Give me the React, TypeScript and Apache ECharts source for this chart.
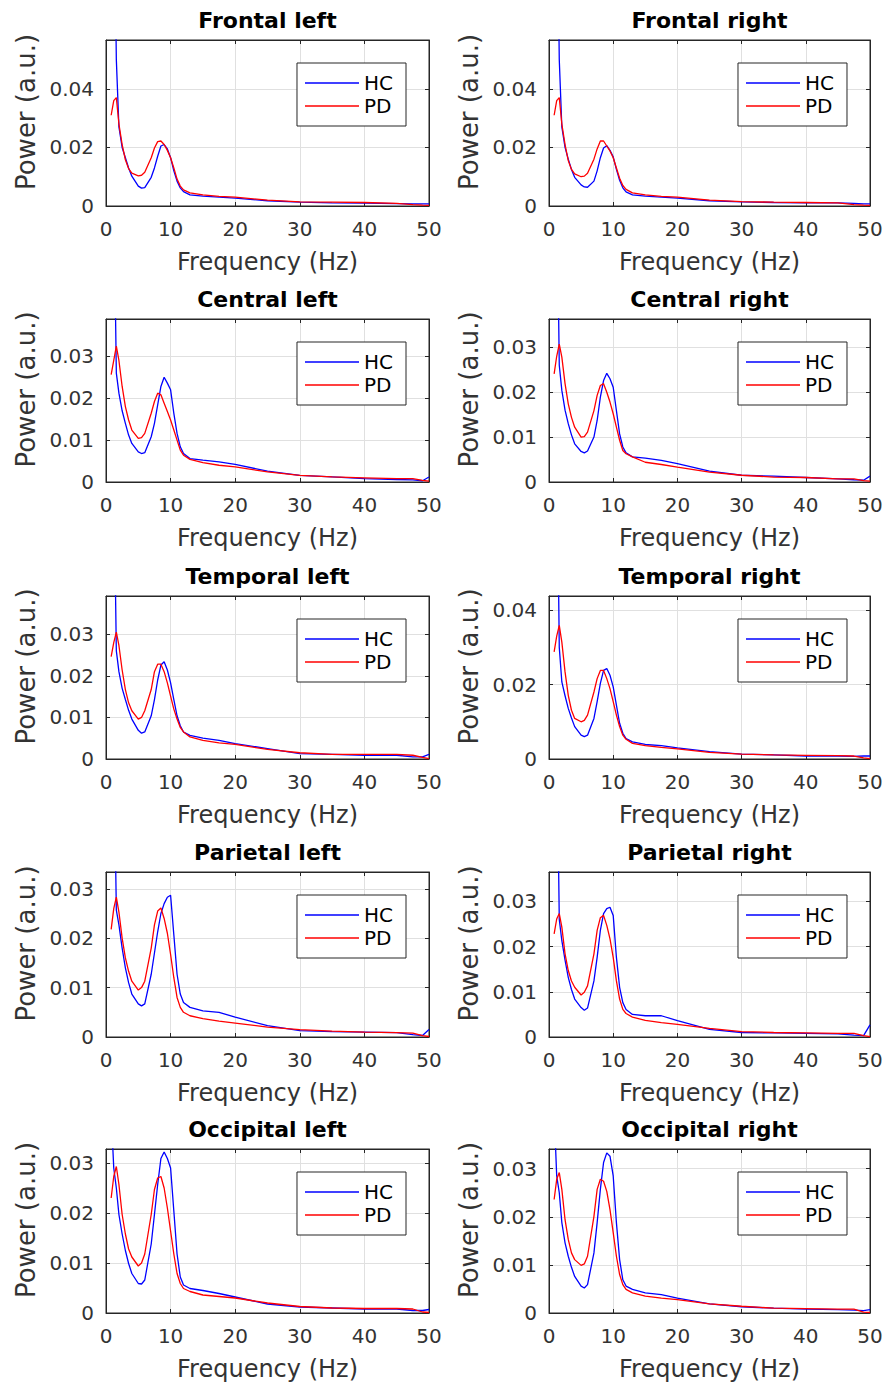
import React, { useEffect, useRef } from "react";
import * as echarts from "echarts";

// ---------- DATA ----------
const FREQ = [0.8, 1.2, 1.6, 2, 2.5, 3, 3.5, 4, 5, 5.5, 6, 7, 7.5, 8, 8.5, 9, 9.5, 10, 10.5, 11, 11.5, 12, 13, 15, 17.5, 20, 25, 30, 35, 40, 45, 47.5, 49, 50];

const TITLES = [
  "Frontal left", "Frontal right",
  "Central left", "Central right",
  "Temporal left", "Temporal right",
  "Parietal left", "Parietal right",
  "Occipital left", "Occipital right",
];

const Y_MAX = [0.0567, 0.0567, 0.0389, 0.0363, 0.0392, 0.0438, 0.0334, 0.0365, 0.0328, 0.0341];
const Y_STEP = [0.02, 0.02, 0.01, 0.01, 0.01, 0.02, 0.01, 0.01, 0.01, 0.01];
const X_MIN = 0;
const X_MAX = 50;
const X_STEP = 10;

const HC_FRONTAL_LEFT = [null, 0.12, 0.05, 0.027, 0.02, 0.0165, 0.013, 0.0102, 0.0068, 0.0061, 0.0063, 0.0098, 0.013, 0.017, 0.0205, 0.021, 0.0195, 0.0165, 0.012, 0.0085, 0.0062, 0.0049, 0.0038, 0.0034, 0.003, 0.0027, 0.0018, 0.0013, 0.0011, 0.001, 0.0008, 0.0007, 0.0007, 0.0007];
const PD_FRONTAL_LEFT = [0.031, 0.036, 0.037, 0.028, 0.021, 0.0158, 0.0128, 0.0112, 0.0103, 0.0105, 0.0115, 0.0165, 0.0198, 0.022, 0.0222, 0.021, 0.019, 0.0165, 0.013, 0.0092, 0.0068, 0.0055, 0.0045, 0.0038, 0.0033, 0.003, 0.002, 0.0014, 0.0013, 0.0012, 0.0009, 0.0005, 0.0003, 0.0002];

const HC_FRONTAL_RIGHT = [null, 0.12, 0.05, 0.027, 0.02, 0.016, 0.0125, 0.0098, 0.0072, 0.0065, 0.0064, 0.0085, 0.012, 0.0165, 0.0198, 0.0206, 0.019, 0.0168, 0.0125, 0.0088, 0.0062, 0.0048, 0.0038, 0.0034, 0.003, 0.0027, 0.0018, 0.0014, 0.0012, 0.0011, 0.0011, 0.0009, 0.0007, 0.0007];
const PD_FRONTAL_RIGHT = [0.031, 0.036, 0.037, 0.028, 0.021, 0.0155, 0.0125, 0.011, 0.01, 0.0102, 0.0112, 0.016, 0.0195, 0.0222, 0.0222, 0.0205, 0.0188, 0.0165, 0.013, 0.0095, 0.007, 0.0057, 0.0045, 0.0038, 0.0033, 0.003, 0.002, 0.0015, 0.0013, 0.0012, 0.0011, 0.0005, 0.0003, 0.0002];

const HC_CENTRAL_LEFT = [null, 0.07, 0.026, 0.0212, 0.017, 0.014, 0.0112, 0.0092, 0.0072, 0.0068, 0.007, 0.0108, 0.014, 0.0184, 0.0228, 0.025, 0.0236, 0.022, 0.0164, 0.0116, 0.0084, 0.0068, 0.0056, 0.0052, 0.0048, 0.0042, 0.0026, 0.0016, 0.0012, 0.0008, 0.0006, 0.0005, 0.0003, 0.0012];
const PD_CENTRAL_LEFT = [0.0256, 0.029, 0.0324, 0.029, 0.0228, 0.018, 0.0148, 0.0124, 0.0104, 0.0106, 0.0116, 0.0164, 0.0192, 0.0212, 0.0208, 0.0188, 0.0168, 0.0148, 0.0124, 0.01, 0.0076, 0.0064, 0.0054, 0.0046, 0.004, 0.0036, 0.0024, 0.0016, 0.0012, 0.001, 0.0008, 0.0008, 0.0004, 0.0002];

const HC_CENTRAL_RIGHT = [null, 0.07, 0.026, 0.0204, 0.016, 0.013, 0.0105, 0.0085, 0.0068, 0.0065, 0.0069, 0.01, 0.0137, 0.0189, 0.0226, 0.0242, 0.023, 0.0211, 0.0159, 0.0107, 0.0078, 0.0065, 0.0056, 0.0053, 0.0048, 0.0041, 0.0024, 0.0015, 0.0013, 0.001, 0.0007, 0.0005, 0.0004, 0.0013];
const PD_CENTRAL_RIGHT = [0.0241, 0.028, 0.0307, 0.0278, 0.0219, 0.0174, 0.0144, 0.0122, 0.01, 0.0101, 0.0111, 0.0159, 0.0193, 0.0215, 0.0219, 0.02, 0.0178, 0.0152, 0.0122, 0.0093, 0.007, 0.0063, 0.0056, 0.0044, 0.0039, 0.0033, 0.0022, 0.0015, 0.0011, 0.001, 0.0007, 0.0007, 0.0003, 0.0002];

const HC_TEMPORAL_LEFT = [null, 0.07, 0.026, 0.021, 0.017, 0.0143, 0.0117, 0.0096, 0.0069, 0.0062, 0.0065, 0.0104, 0.0143, 0.019, 0.0226, 0.0234, 0.0214, 0.0183, 0.0143, 0.0104, 0.008, 0.0065, 0.0057, 0.005, 0.0045, 0.0037, 0.0025, 0.0013, 0.0011, 0.0009, 0.0009, 0.0005, 0.0005, 0.0011];
const PD_TEMPORAL_LEFT = [0.0246, 0.028, 0.0305, 0.0273, 0.0214, 0.0167, 0.0135, 0.0116, 0.0096, 0.01, 0.0116, 0.0167, 0.021, 0.0228, 0.0228, 0.021, 0.0183, 0.0151, 0.012, 0.0096, 0.0076, 0.0065, 0.0053, 0.0045, 0.0039, 0.0035, 0.0023, 0.0015, 0.0011, 0.0011, 0.0011, 0.0009, 0.0004, 0.0001];

const HC_TEMPORAL_RIGHT = [null, 0.09, 0.03, 0.0207, 0.017, 0.0136, 0.011, 0.0087, 0.0064, 0.006, 0.0064, 0.0109, 0.0154, 0.0203, 0.0238, 0.0243, 0.0225, 0.0194, 0.0145, 0.0096, 0.0069, 0.0055, 0.0046, 0.0039, 0.0036, 0.003, 0.002, 0.0013, 0.0011, 0.0008, 0.0008, 0.0007, 0.0008, 0.0008];
const PD_TEMPORAL_RIGHT = [0.0288, 0.033, 0.0359, 0.0314, 0.0234, 0.0171, 0.0131, 0.0109, 0.01, 0.0104, 0.0118, 0.018, 0.0216, 0.0238, 0.0238, 0.0216, 0.0189, 0.0154, 0.0118, 0.0087, 0.0064, 0.0053, 0.0042, 0.0036, 0.0031, 0.0027, 0.0018, 0.0013, 0.0011, 0.001, 0.0009, 0.0008, 0.0003, 0.0001];

const HC_PARIETAL_LEFT = [null, 0.06, 0.0257, 0.0227, 0.018, 0.014, 0.011, 0.0087, 0.0067, 0.0063, 0.0067, 0.0127, 0.017, 0.0213, 0.025, 0.027, 0.0283, 0.0287, 0.0207, 0.0127, 0.0087, 0.007, 0.006, 0.0053, 0.005, 0.004, 0.0023, 0.0013, 0.0011, 0.001, 0.0009, 0.0005, 0.0003, 0.0015];
const PD_PARIETAL_LEFT = [0.0218, 0.026, 0.0283, 0.0253, 0.02, 0.016, 0.0133, 0.0113, 0.0095, 0.01, 0.0113, 0.018, 0.0227, 0.0255, 0.0261, 0.024, 0.021, 0.0167, 0.012, 0.008, 0.006, 0.005, 0.0043, 0.0037, 0.0032, 0.0028, 0.002, 0.0015, 0.0012, 0.001, 0.0009, 0.0008, 0.0003, 0.0001];

const HC_PARIETAL_RIGHT = [null, 0.07, 0.026, 0.0213, 0.017, 0.0132, 0.0105, 0.0084, 0.0065, 0.0059, 0.0064, 0.0124, 0.0176, 0.0236, 0.0273, 0.0284, 0.0287, 0.0269, 0.0176, 0.011, 0.0076, 0.0061, 0.005, 0.0047, 0.0047, 0.0036, 0.0017, 0.001, 0.0009, 0.0008, 0.0007, 0.0004, 0.0003, 0.0027];
const PD_PARIETAL_RIGHT = [0.0228, 0.0261, 0.0273, 0.0243, 0.0184, 0.0147, 0.0124, 0.011, 0.0093, 0.0099, 0.0113, 0.0184, 0.0236, 0.0264, 0.0269, 0.0247, 0.0217, 0.0176, 0.0124, 0.0084, 0.0061, 0.0052, 0.0044, 0.0037, 0.0032, 0.0028, 0.0019, 0.0012, 0.001, 0.0009, 0.0008, 0.0008, 0.0003, 0.0001];

const HC_OCCIPITAL_LEFT = [0.04, 0.029, 0.025, 0.0197, 0.0158, 0.0125, 0.0099, 0.0079, 0.0059, 0.0058, 0.0066, 0.0138, 0.0197, 0.0257, 0.0309, 0.0322, 0.0309, 0.029, 0.0204, 0.0118, 0.0072, 0.0056, 0.0049, 0.0045, 0.0039, 0.0032, 0.0018, 0.0012, 0.001, 0.0008, 0.0008, 0.0005, 0.0005, 0.0007];
const PD_OCCIPITAL_LEFT = [0.023, 0.0273, 0.0293, 0.0257, 0.0197, 0.0158, 0.0128, 0.0112, 0.0094, 0.01, 0.0118, 0.0197, 0.0247, 0.027, 0.0273, 0.025, 0.021, 0.0164, 0.0118, 0.0079, 0.0059, 0.0049, 0.0043, 0.0036, 0.0033, 0.003, 0.002, 0.0013, 0.001, 0.0009, 0.0009, 0.0008, 0.0002, 0.0001];

const HC_OCCIPITAL_RIGHT = [0.042, 0.0285, 0.025, 0.0188, 0.0146, 0.0118, 0.0095, 0.0076, 0.0056, 0.0052, 0.0059, 0.0125, 0.0188, 0.0257, 0.0313, 0.0333, 0.0326, 0.0285, 0.0188, 0.0111, 0.0069, 0.0056, 0.0049, 0.0042, 0.0038, 0.0031, 0.0019, 0.0013, 0.001, 0.0008, 0.0007, 0.0006, 0.0005, 0.0007];
const PD_OCCIPITAL_RIGHT = [0.0236, 0.0278, 0.0292, 0.0257, 0.0194, 0.0153, 0.0125, 0.0111, 0.0099, 0.0102, 0.0118, 0.0201, 0.0257, 0.0278, 0.0274, 0.0253, 0.0215, 0.0167, 0.0118, 0.008, 0.0059, 0.0049, 0.0042, 0.0035, 0.0031, 0.0028, 0.0019, 0.0014, 0.001, 0.0009, 0.0008, 0.0008, 0.0002, 0.0001];

const HC_SERIES = [HC_FRONTAL_LEFT, HC_FRONTAL_RIGHT, HC_CENTRAL_LEFT, HC_CENTRAL_RIGHT, HC_TEMPORAL_LEFT, HC_TEMPORAL_RIGHT, HC_PARIETAL_LEFT, HC_PARIETAL_RIGHT, HC_OCCIPITAL_LEFT, HC_OCCIPITAL_RIGHT];
const PD_SERIES = [PD_FRONTAL_LEFT, PD_FRONTAL_RIGHT, PD_CENTRAL_LEFT, PD_CENTRAL_RIGHT, PD_TEMPORAL_LEFT, PD_TEMPORAL_RIGHT, PD_PARIETAL_LEFT, PD_PARIETAL_RIGHT, PD_OCCIPITAL_LEFT, PD_OCCIPITAL_RIGHT];
const LEGEND_NAMES = ["HC", "PD"];

// ---------- LAYOUT ----------
const W = 886;
const H = 1389;
const COL_LEFT = [106, 549];
const COL_WIDTH = [323, 321];
const ROW_TOP = [40, 319, 596, 872, 1149];
const ROW_BOTTOM = [206, 482, 759, 1037, 1313];
const FONT = "DejaVu Sans";
const INK = "#262626";
const LABEL = "#333333";
const GRID_LINE = "#e0e0e0";
const HC_COLOR = "#0000ff";
const PD_COLOR = "#ff0000";

function buildOption() {
  const grid: any[] = [];
  const xAxis: any[] = [];
  const yAxis: any[] = [];
  const series: any[] = [];
  const title: any[] = [];
  const legend: any[] = [];

  for (let i = 0; i < 10; i++) {
    const col = i % 2;
    const row = Math.floor(i / 2);
    const left = COL_LEFT[col];
    const width = COL_WIDTH[col];
    const top = ROW_TOP[row];
    const height = ROW_BOTTOM[row] - top;

    grid.push({
      left, top, width, height,
      show: true,
      borderColor: INK,
      borderWidth: 1,
      backgroundColor: "#fff",
      containLabel: false,
    });

    const xCommon = {
      type: "value",
      gridIndex: i,
      min: X_MIN,
      max: X_MAX,
      interval: X_STEP,
    };
    xAxis.push({
      ...xCommon,
      position: "bottom",
      name: "Frequency (Hz)",
      nameLocation: "middle",
      nameGap: 44,
      nameTextStyle: { fontFamily: FONT, fontSize: 24, color: LABEL },
      axisLine: { show: true, onZero: false, lineStyle: { color: INK, width: 1 } },
      axisTick: { show: true, inside: true, length: 4, lineStyle: { color: INK } },
      axisLabel: { show: true, margin: 13, fontFamily: FONT, fontSize: 20, color: LABEL },
      splitLine: { show: true, lineStyle: { color: GRID_LINE, width: 1 } },
    });
    xAxis.push({
      ...xCommon,
      position: "top",
      axisLine: { show: true, onZero: false, lineStyle: { color: INK, width: 1 } },
      axisTick: { show: true, inside: true, length: 4, lineStyle: { color: INK } },
      axisLabel: { show: false },
      splitLine: { show: false },
    });

    const yCommon = {
      type: "value",
      gridIndex: i,
      min: 0,
      max: Y_MAX[i],
      interval: Y_STEP[i],
    };
    yAxis.push({
      ...yCommon,
      position: "left",
      name: "Power (a.u.)",
      nameLocation: "middle",
      nameGap: 67,
      nameTextStyle: { fontFamily: FONT, fontSize: 26, color: LABEL, padding: [0, 0, 0, 22] },
      axisLine: { show: true, onZero: false, lineStyle: { color: INK, width: 1 } },
      axisTick: { show: true, inside: true, length: 4, lineStyle: { color: INK } },
      axisLabel: {
        show: true, margin: 12, fontFamily: FONT, fontSize: 20, color: LABEL,
        showMaxLabel: false,
      },
      splitLine: { show: true, lineStyle: { color: GRID_LINE, width: 1 } },
    });
    yAxis.push({
      ...yCommon,
      position: "right",
      axisLine: { show: true, onZero: false, lineStyle: { color: INK, width: 1 } },
      axisTick: { show: true, inside: true, length: 4, lineStyle: { color: INK } },
      axisLabel: { show: false },
      splitLine: { show: false },
    });

    series.push({
      type: "line",
      name: "HC",
      xAxisIndex: i * 2,
      yAxisIndex: i * 2,
      data: FREQ.map((f, j) => [f, HC_SERIES[i][j]]),
      symbol: "none",
      clip: true,
      connectNulls: false,
      lineStyle: { color: HC_COLOR, width: 1.3 },
      itemStyle: { color: HC_COLOR },
      z: 3,
    });
    series.push({
      type: "line",
      name: "PD",
      xAxisIndex: i * 2,
      yAxisIndex: i * 2,
      data: FREQ.map((f, j) => [f, PD_SERIES[i][j]]),
      symbol: "none",
      clip: true,
      lineStyle: { color: PD_COLOR, width: 1.3 },
      itemStyle: { color: PD_COLOR },
      z: 4,
    });

    title.push({
      text: TITLES[i],
      left: left + width / 2,
      top: top - 31,
      textAlign: "center",
      padding: 0,
      textStyle: { fontFamily: FONT, fontSize: 22, fontWeight: "bold", color: "#000" },
    });

    legend.push({
      data: LEGEND_NAMES.map((n, k) => ({
        name: n,
        icon: "rect",
        itemStyle: { color: k === 0 ? HC_COLOR : PD_COLOR, borderWidth: 0 },
      })),
      orient: "vertical",
      right: W - (left + width - 23),
      top: top + 23,
      padding: [10, 13, 10, 8],
      itemGap: 3,
      itemWidth: 54,
      itemHeight: 1.5,
      itemTextGap: 5,
      backgroundColor: "#fff",
      borderColor: INK,
      borderWidth: 1,
      borderRadius: 0,
      selectedMode: false,
      textStyle: { fontFamily: FONT, fontSize: 20, color: "#000", lineHeight: 20 },
      z: 10,
    });
  }

  return {
    animation: false,
    backgroundColor: "#fff",
    title,
    legend,
    grid,
    xAxis,
    yAxis,
    series,
  };
}

export default function App() {
  const ref = useRef<HTMLDivElement | null>(null);
  useEffect(() => {
    if (!ref.current) return;
    const chart = echarts.init(ref.current, undefined, { renderer: "svg" });
    chart.setOption(buildOption() as any);
    return () => chart.dispose();
  }, []);
  return (
    <div
      ref={ref}
      style={{ position: "absolute", left: 0, top: 0, width: W, height: H, background: "#fff" }}
    />
  );
}
